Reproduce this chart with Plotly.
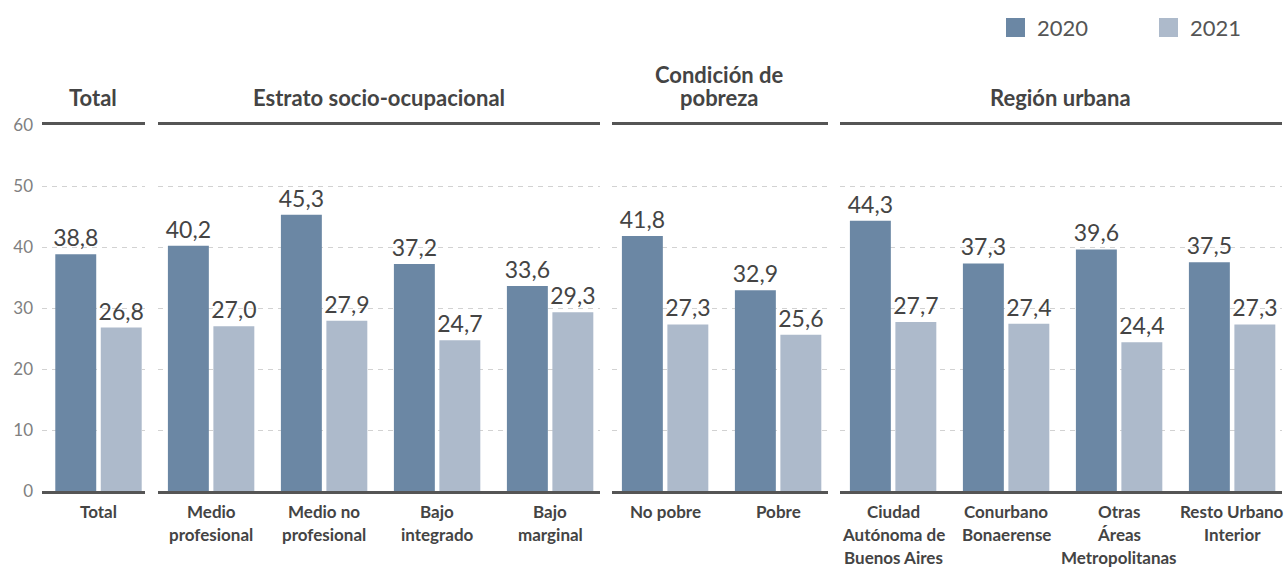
import plotly.graph_objects as go

# ---------------- data ----------------
group_titles = ["Total", "Estrato socio-ocupacional", "Condición de<br>pobreza", "Región urbana"]
cats_total = ["Total"]
cats_estrato = ["Medio<br>profesional", "Medio no<br>profesional", "Bajo<br>integrado", "Bajo<br>marginal"]
cats_pobreza = ["No pobre", "Pobre"]
cats_region = ["Ciudad<br>Autónoma de<br>Buenos Aires", "Conurbano<br>Bonaerense", "Otras<br>Áreas<br>Metropolitanas", "Resto Urbano<br>Interior"]

v2020_total = [38.8]
v2021_total = [26.8]
v2020_estrato = [40.2, 45.3, 37.2, 33.6]
v2021_estrato = [27.0, 27.9, 24.7, 29.3]
v2020_pobreza = [41.8, 32.9]
v2021_pobreza = [27.3, 25.6]
v2020_region = [44.3, 37.3, 39.6, 37.5]
v2021_region = [27.7, 27.4, 24.4, 27.3]

series_names = ["2020", "2021"]
y_ticks = [0, 10, 20, 30, 40, 50, 60]

# ---------------- style ----------------
colors = ["#6b87a4", "#adbacb"]
TXT = "#444444"
FONT = "Lato"
W, H = 1287, 568
ML, MR, MT, MB = 42, 5, 125, 77
PW, PH = W - ML - MR, H - MT - MB

groups = [
    (cats_total, v2020_total, v2021_total),
    (cats_estrato, v2020_estrato, v2021_estrato),
    (cats_pobreza, v2020_pobreza, v2021_pobreza),
    (cats_region, v2020_region, v2021_region),
]
starts_px = [42, 158, 612, 840]
left_pad = [0.5, 0.47, 0.47, 0.47]
ppu = 113.0

fig = go.Figure()
layout_axes = {}
annotations = []
shapes = []

for k, ((cats, a, b), sx, lp) in enumerate(zip(groups, starts_px, left_pad)):
    n = len(cats)
    span = n - 1 + 0.91
    x0 = (sx - ML) / PW
    x1 = (sx + span * ppu - ML) / PW
    xname = "x" if k == 0 else f"x{k+1}"
    yname = "y" if k == 0 else f"y{k+1}"
    xkey = "xaxis" if k == 0 else f"xaxis{k+1}"
    ykey = "yaxis" if k == 0 else f"yaxis{k+1}"
    for vals, nm, col in zip((a, b), series_names, colors):
        fig.add_trace(go.Bar(
            x=cats, y=vals, name=nm, marker=dict(color=col, line=dict(width=0)),
            xaxis=xname, yaxis=yname, showlegend=False,
            texttemplate="%{y:.1f}", textposition="outside", constraintext="none",
            cliponaxis=False, textfont=dict(family=FONT, size=23, color=TXT),
            offsetgroup=nm, hoverinfo="skip",
        ))
    layout_axes[xkey] = dict(
        domain=[x0, x1], anchor=yname, type="category",
        range=[-lp, -lp + span], showline=True, mirror=True, linecolor="#555555",
        linewidth=3, showticklabels=False, ticks="", showgrid=False, zeroline=False,
        fixedrange=True,
    )
    layout_axes[ykey] = dict(
        domain=[0, 1], anchor=xname, range=[0, 60], tickvals=y_ticks,
        showticklabels=(k == 0), showline=False, ticks="", zeroline=False,
        showgrid=True, gridcolor="#d2d2d2", griddash="5px,5px", gridwidth=1,
        tickfont=dict(family=FONT, size=17, color="#808080"),
        ticklabelstandoff=8, fixedrange=True,
    )
    # group header
    lines = group_titles[k].split("<br>")
    for i, ln in enumerate(lines):
        cy = 97 - (len(lines) - 1 - i) * 23
        annotations.append(dict(
            text=ln, xref=f"{xname} domain", x=0.5, yref="paper", y=1,
            xanchor="center", yanchor="middle", yshift=MT - cy, showarrow=False,
            font=dict(family=FONT, size=22, color=TXT, weight="bold"),
        ))
    # category labels
    for c in cats:
        for i, ln in enumerate(c.split("<br>")):
            cy = 511 + i * 23
            annotations.append(dict(
                text=ln, xref=xname, x=c, yref="paper", y=0,
                xanchor="center", yanchor="middle", yshift=(H - MB) - cy,
                showarrow=False,
                font=dict(family=FONT, size=17, color=TXT, weight="bold"),
            ))

# manual legend
leg_px = [1006, 1159]
for nm, col, lx in zip(series_names, colors, leg_px):
    shapes.append(dict(
        type="rect", xref="paper", yref="paper",
        x0=(lx - ML) / PW, x1=(lx + 19 - ML) / PW,
        y0=(H - MB - 37) / PH, y1=(H - MB - 18) / PH,
        fillcolor=col, line=dict(width=0),
    ))
    annotations.append(dict(
        text=nm, xref="paper", yref="paper", x=(lx + 29 - ML) / PW,
        y=(H - MB - 27.5) / PH, xanchor="left", yanchor="middle",
        showarrow=False, font=dict(family=FONT, size=22, color="#555555"),
    ))

fig.update_layout(
    width=W, height=H, margin=dict(l=ML, r=MR, t=MT, b=MB),
    paper_bgcolor="white", plot_bgcolor="white",
    barmode="group", bargap=0.195, bargroupgap=0.1,
    separators=",.", showlegend=False,
    annotations=annotations, shapes=shapes,
    font=dict(family=FONT, color=TXT),
    **layout_axes,
)

fig.write_html(
    "out.html",
    config={"displayModeBar": False, "staticPlot": True},
    post_script="document.body.style.margin='0';document.body.style.padding='0';document.body.style.overflow='hidden';",
)
